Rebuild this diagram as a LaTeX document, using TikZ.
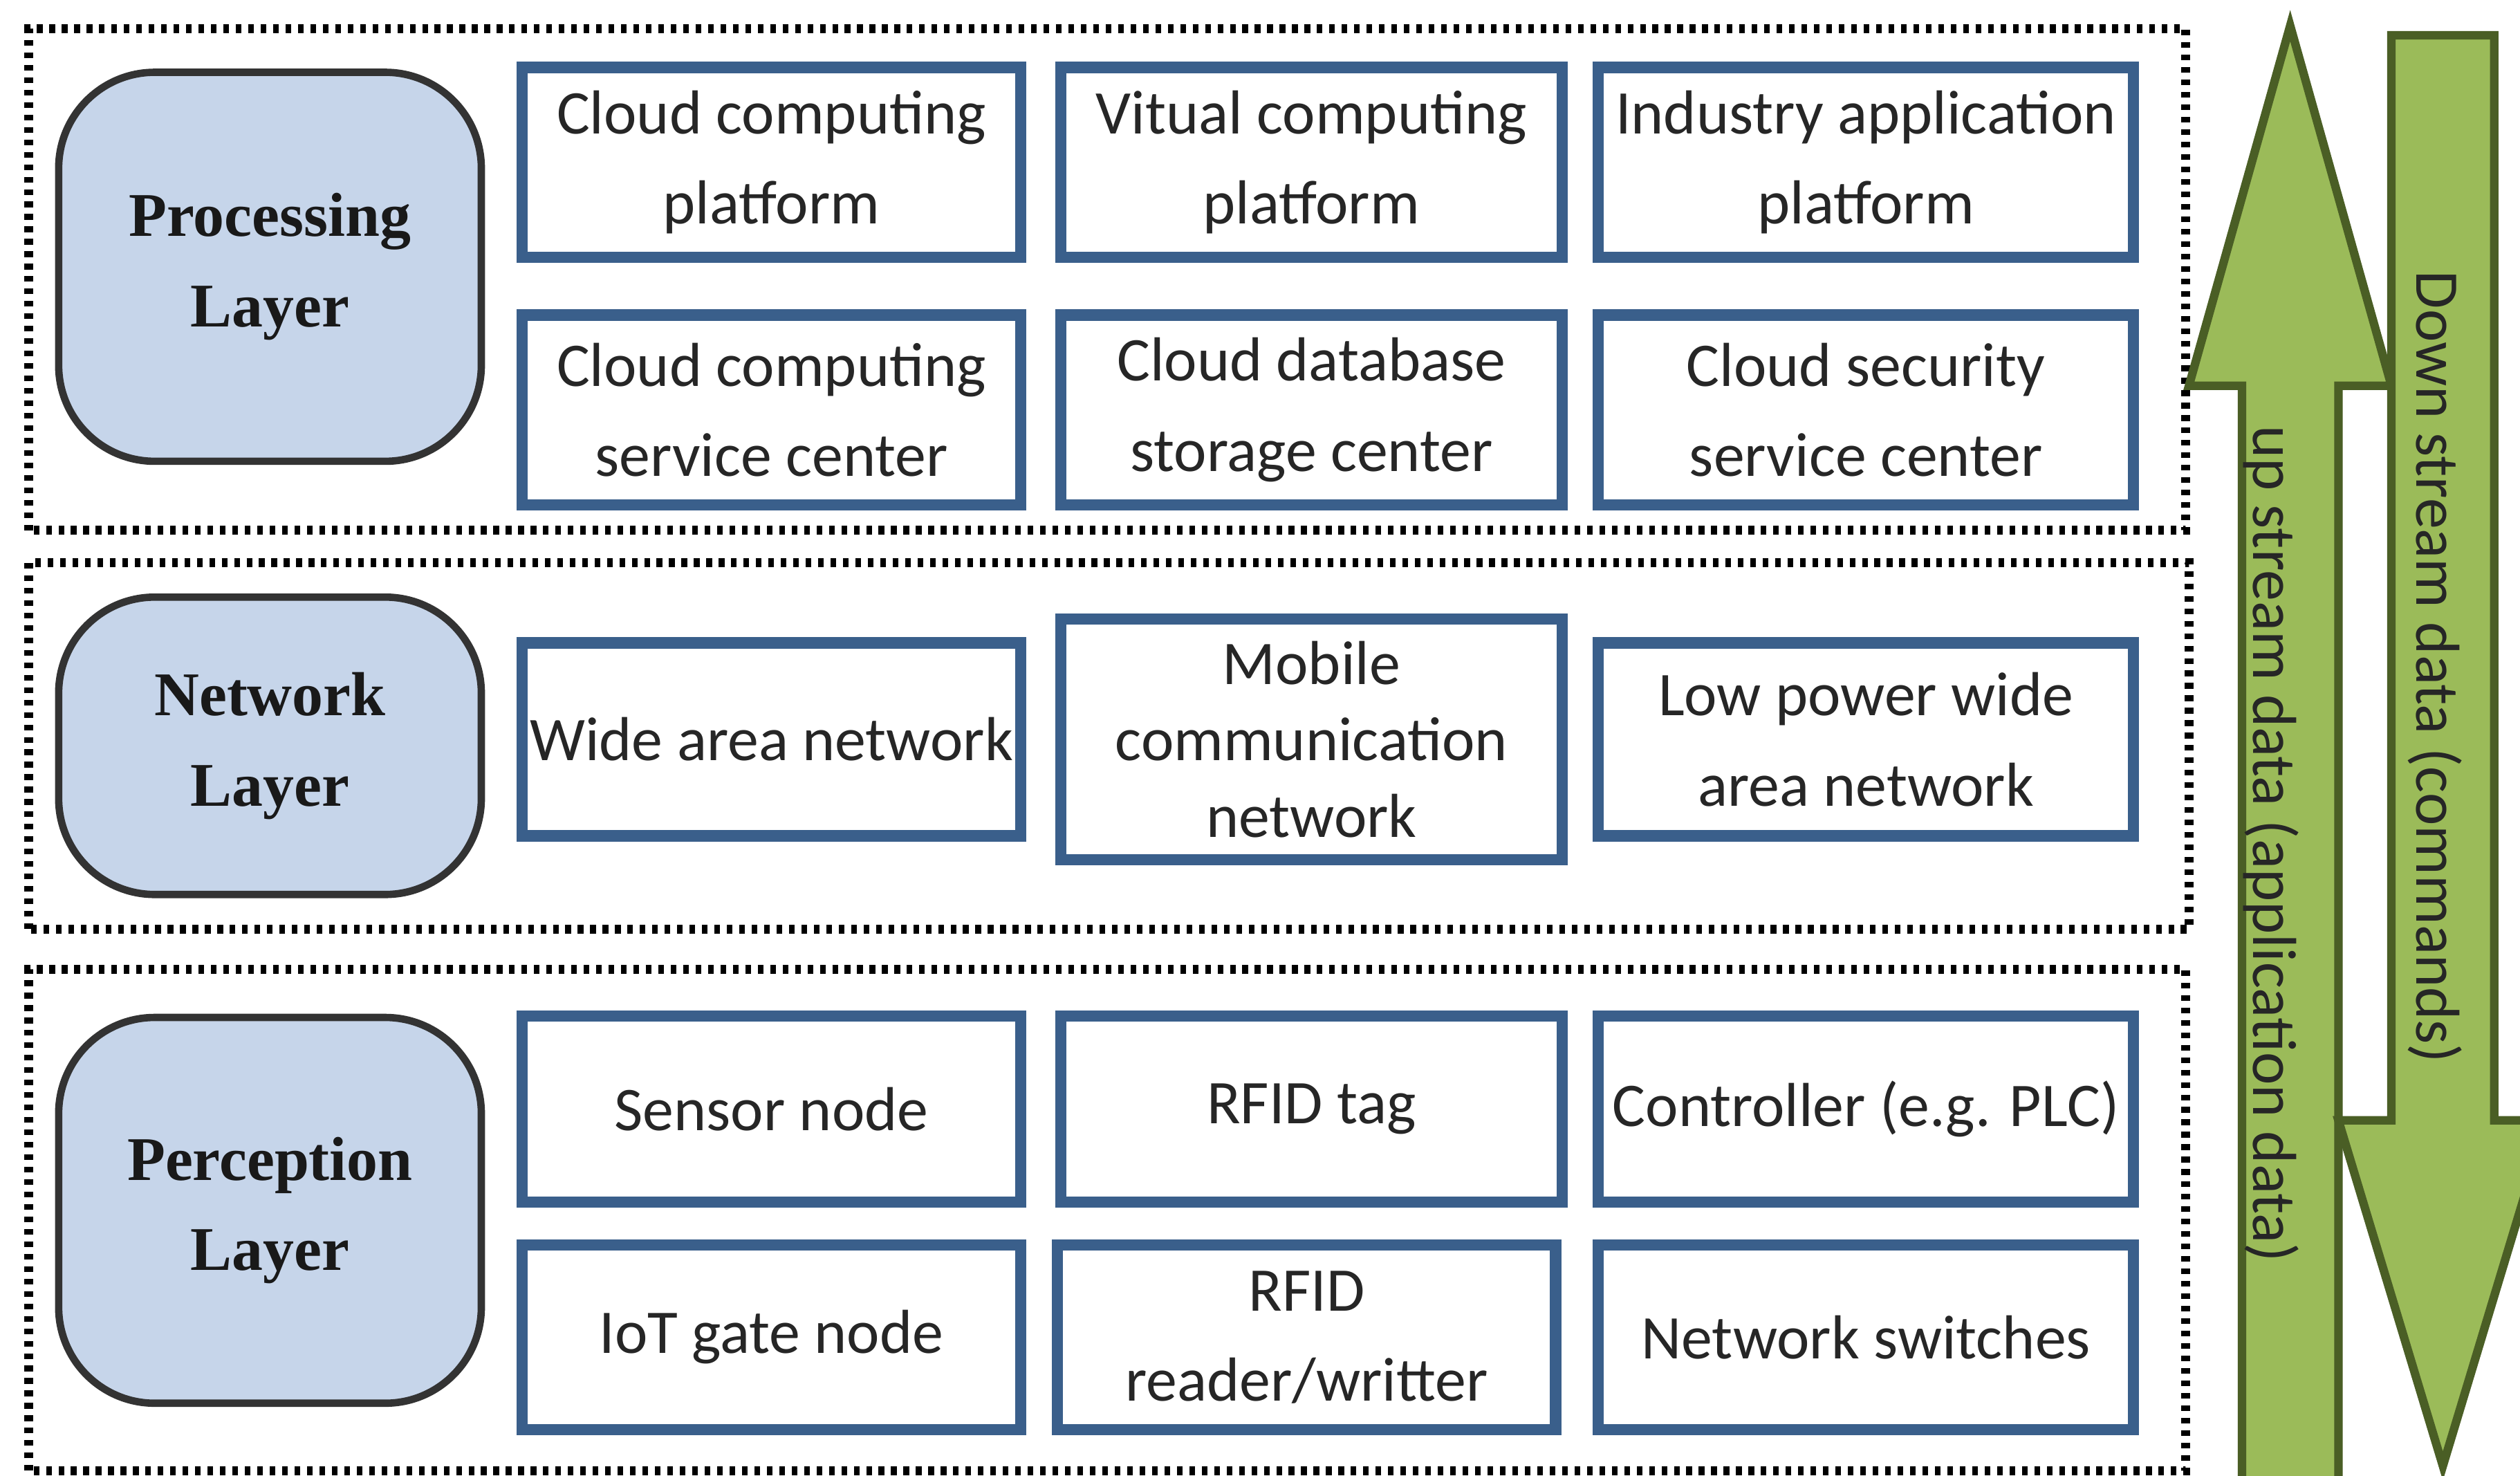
\documentclass[tikz,border=0pt]{standalone}
\usepackage{fontspec}
\setmainfont{Carlito}
\newfontfamily\layerfont{Liberation Serif}
\definecolor{layerfill}{HTML}{C6D5EA}
\definecolor{boxblue}{HTML}{3A5F8B}
\definecolor{arrowfill}{HTML}{9BBB59}
\definecolor{arrowline}{HTML}{4A5E25}
\begin{document}
\begin{tikzpicture}[x=0.1mm,y=0.1mm,
    frame/.style={draw=black,line width=1.6pt,dash pattern=on 1pt off 1.2pt},
    layerbox/.style={draw=black!80,line width=1.3pt,fill=layerfill,rounded corners=17pt,
      minimum width=26.3mm,align=center,text=black!90,
      font=\layerfont\bfseries\fontsize{11}{16}\selectfont},
    item/.style={draw=boxblue,line width=2pt,fill=white,align=center,inner sep=0pt,
      text=black!85,font=\fontsize{11}{16}\selectfont,minimum height=11.8mm},
    flow/.style={draw=arrowline,line width=1.5pt,fill=arrowfill,line join=miter},
    flowtext/.style={rotate=-90,text=black!85,font=\fontsize{11}{13}\selectfont}]
      \useasboundingbox (0,0) rectangle (1568,918);
      \fill[white] (0,0) rectangle (1568,918);
      \draw[frame] (18,588) rectangle (1360,900);
      \draw[frame] (18,340) rectangle (1362,568);
      \draw[frame] (18,3) rectangle (1360,315);
      \node[layerbox,minimum height=24.2mm] (proc) at (168,752) {Processing\\Layer};
      \node[layerbox,minimum height=18.5mm] (net) at (168,454) {Network\\Layer};
      \node[layerbox,minimum height=24mm] (perc) at (168,165) {Perception\\Layer};
      \node[item,minimum width=31mm] (ccp) at (480,817) {Cloud computing\\platform};
      \node[item,minimum width=31.2mm] (vcp) at (816,817) {Vitual computing\\platform};
      \node[item,minimum width=33.3mm] (iap) at (1161,817) {Industry application\\platform};
      \node[item,minimum width=31mm] (ccs) at (480,663) {Cloud computing\\service center};
      \node[item,minimum width=31.2mm] (cds) at (816,663) {Cloud database\\storage center};
      \node[item,minimum width=33.3mm] (css) at (1161,663) {Cloud security\\service center};
      \node[item,minimum width=31mm,minimum height=12mm] (wan) at (480,458) {Wide area network};
      \node[item,minimum width=31.2mm,minimum height=15mm,font=\fontsize{11}{13.5}\selectfont]
        (mcn) at (816,458) {Mobile\\communication\\network};
      \node[item,minimum width=33.3mm,minimum height=12mm] (lpw) at (1161,458) {Low power wide\\area network};
      \node[item,minimum width=31mm,minimum height=11.6mm] (sen) at (480,228) {Sensor node};
      \node[item,minimum width=31.2mm,minimum height=11.6mm] (tag) at (816,228) {RFID tag};
      \node[item,minimum width=33.3mm,minimum height=11.6mm] (plc) at (1161,228) {Controller (e.g. PLC)};
      \node[item,minimum width=31mm,minimum height=11.5mm] (gate) at (480,86) {IoT gate node};
      \node[item,minimum width=31mm,minimum height=11.5mm] (rdr) at (813,86) {RFID\\reader/writter};
      \node[item,minimum width=33.3mm,minimum height=11.5mm] (sw) at (1161,86) {Network switches};
      \draw[flow] (1395,-10) -- (1395,678) -- (1362,678) -- (1425,902) -- (1488,678)
        -- (1455,678) -- (1455,-10) -- cycle;
      \draw[flow] (1488,896) -- (1552,896) -- (1552,221) -- (1585,221) -- (1520,6)
        -- (1455,221) -- (1488,221) -- cycle;
      \node[flowtext] (up) at (1413,393) {up stream data (application data)};
      \node[flowtext] (down) at (1515,503) {Down stream data (commands)};
    \end{tikzpicture}
\end{document}
